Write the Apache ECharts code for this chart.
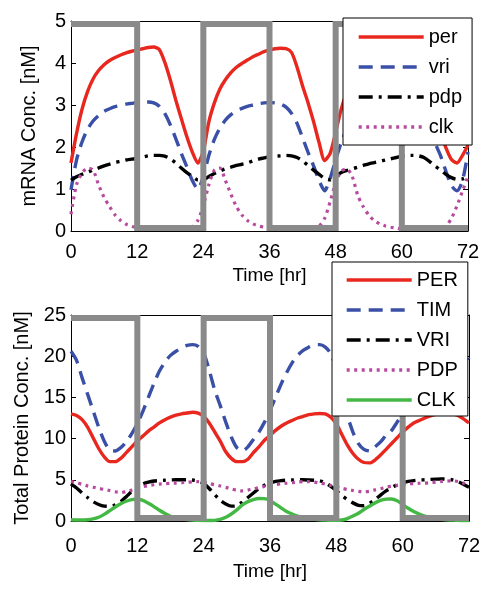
<!DOCTYPE html>
<html><head><meta charset="utf-8">
<script src="https://cdn.jsdelivr.net/npm/echarts@6/dist/echarts.min.js"></script>
<style>html,body{margin:0;padding:0;background:#fff}#c{width:496px;height:600px}</style>
</head><body><div id="c"></div>
<script>
// ---- data ----
const hours = [0,1,2,3,4,5,6,7,8,9,10,11,12,13,14,15,16,17,18,19,20,21,22,23,24,25,26,27,28,29,30,31,32,33,34,35,36,37,38,39,40,41,42,43,44,45,46,47,48,49,50,51,52,53,54,55,56,57,58,59,60,61,62,63,64,65,66,67,68,69,70,71,72];
const xTicks = [0,12,24,36,48,60,72];

const mrnaPer = [1.62,2.32,2.9,3.32,3.62,3.82,3.96,4.06,4.13,4.19,4.24,4.28,4.31,
 4.34,4.37,4.38,4.32,4.02,3.6,3.12,2.68,2.25,1.88,1.62,1.9,
 2.6,3.05,3.38,3.6,3.77,3.9,3.99,4.07,4.15,4.21,4.27,4.31,
 4.34,4.35,4.34,4.25,3.9,3.45,3.05,2.6,2.1,1.68,1.85,2.35,
 2.9,3.3,3.6,3.82,3.98,4.08,4.16,4.22,4.26,4.3,4.33,4.35,
 4.36,4.35,4.2,3.85,3.35,2.85,2.35,1.98,1.7,1.62,1.8,2.05];
const mrnaVri = [0.98,1.69,2.12,2.42,2.62,2.75,2.85,2.91,2.96,2.99,3.02,3.04,3.06,
 3.07,3.07,3.05,2.97,2.8,2.53,2.2,1.85,1.53,1.2,1.0,1.3,
 1.8,2.18,2.45,2.64,2.77,2.86,2.92,2.97,3.0,3.03,3.05,3.06,
 3.05,3.02,2.95,2.8,2.56,2.22,1.87,1.55,1.2,0.96,1.25,1.7,
 2.1,2.42,2.62,2.76,2.86,2.92,2.97,3.0,3.03,3.05,3.06,3.06,
 3.04,2.98,2.86,2.65,2.4,2.1,1.8,1.42,1.08,0.96,1.2,1.88];
const mrnaPdp = [1.21,1.29,1.35,1.4,1.45,1.5,1.55,1.59,1.63,1.66,1.69,1.71,1.73,
 1.76,1.79,1.8,1.8,1.78,1.72,1.62,1.5,1.39,1.3,1.22,1.22,
 1.3,1.37,1.43,1.48,1.52,1.56,1.59,1.62,1.67,1.71,1.74,1.77,
 1.78,1.79,1.8,1.79,1.75,1.67,1.56,1.45,1.35,1.25,1.22,1.3,
 1.39,1.44,1.48,1.52,1.56,1.6,1.63,1.66,1.69,1.72,1.75,1.78,
 1.8,1.8,1.79,1.75,1.66,1.55,1.45,1.35,1.27,1.23,1.24,1.3];
const mrnaClk = [0.4,1.1,1.38,1.5,1.45,1.1,0.8,0.58,0.38,0.25,0.16,0.11,0.08,
 0.06,0.05,0.04,0.04,0.04,0.04,0.04,0.05,0.06,0.1,0.25,0.6,
 1.1,1.45,1.5,1.2,0.88,0.58,0.38,0.25,0.17,0.12,0.09,0.07,
 0.06,0.05,0.05,0.05,0.05,0.06,0.07,0.09,0.12,0.3,0.7,1.15,
 1.42,1.48,1.3,0.85,0.58,0.38,0.25,0.17,0.12,0.09,0.07,0.05,
 0.05,0.05,0.05,0.05,0.05,0.06,0.08,0.12,0.3,0.6,0.95,1.3];

const protPer = [13.0,12.8,12.3,11.4,10.1,8.8,7.8,7.2,7.2,7.6,8.3,9.0,9.7,
 10.3,10.9,11.4,11.9,12.3,12.6,12.85,13.0,13.1,13.2,13.1,12.7,
 11.9,10.8,9.7,8.4,7.6,7.2,7.2,7.5,8.3,9.0,9.8,10.4,
 11.0,11.5,11.9,12.2,12.5,12.7,12.9,13.0,13.05,13.0,12.6,11.8,
 10.5,9.2,8.2,7.5,7.1,7.05,7.4,8.0,8.7,9.4,10.1,10.8,
 11.4,11.9,12.2,12.5,12.75,12.95,13.05,13.1,13.0,12.8,12.4,11.9];
const protTim = [20.6,19.5,17.4,15.4,13.4,11.4,9.7,8.6,8.5,8.9,9.6,10.6,11.8,
 13.3,15.0,16.7,18.2,19.3,20.1,20.6,21.0,21.3,21.4,21.2,20.4,
 18.3,15.9,14.0,12.0,10.2,8.9,8.5,9.0,9.9,10.8,12.0,13.4,
 15.0,16.6,18.0,19.2,20.1,20.7,21.1,21.4,21.4,21.1,20.3,18.4,
 15.6,12.8,10.8,9.4,8.7,8.5,9.0,9.6,10.4,11.0,12.0,13.0,
 14.5,16.0,17.5,18.8,19.9,20.6,21.1,21.3,21.4,21.2,20.6,19.6];
const protVri = [4.5,4.0,3.4,2.85,2.35,2.0,1.8,1.78,1.95,2.35,2.95,3.6,4.1,
 4.5,4.72,4.85,4.9,4.95,4.98,5.0,5.0,5.0,4.97,4.85,4.55,
 3.95,3.2,2.5,2.05,1.8,1.85,2.3,2.85,3.4,3.95,4.35,4.6,
 4.8,4.9,4.95,4.98,5.0,5.0,4.98,4.95,4.88,4.65,4.2,3.7,
 3.1,2.6,2.2,1.9,1.85,2.15,2.6,3.15,3.65,4.05,4.4,4.65,
 4.8,4.9,4.97,5.0,5.05,5.08,5.1,5.08,5.0,4.8,4.45,4.1];
const protPdp = [4.8,4.65,4.45,4.25,4.1,3.95,3.83,3.7,3.55,3.48,3.55,3.75,3.95,
 4.15,4.3,4.4,4.48,4.53,4.57,4.6,4.65,4.7,4.75,4.77,4.7,
 4.55,4.4,4.25,4.08,3.9,3.72,3.65,3.75,3.9,4.05,4.2,4.32,
 4.42,4.5,4.58,4.65,4.72,4.77,4.77,4.72,4.6,4.48,4.3,4.15,
 3.98,3.82,3.7,3.6,3.55,3.6,3.78,3.92,4.1,4.22,4.33,4.42,
 4.5,4.55,4.58,4.6,4.65,4.72,4.8,4.85,4.88,4.8,4.6,4.4];
const protClk = [0.15,0.12,0.12,0.15,0.25,0.45,0.8,1.25,1.7,2.1,2.4,2.6,2.67,
 2.5,2.15,1.75,1.3,0.9,0.58,0.38,0.25,0.16,0.1,0.07,0.06,
 0.06,0.08,0.2,0.45,0.85,1.35,1.95,2.35,2.6,2.73,2.72,2.5,
 2.05,1.6,1.15,0.85,0.6,0.42,0.3,0.22,0.15,0.1,0.08,0.08,
 0.12,0.3,0.6,0.95,1.4,1.8,2.2,2.5,2.65,2.67,2.45,2.0,
 1.55,1.15,0.85,0.6,0.42,0.3,0.2,0.14,0.1,0.08,0.06,0.05];

// light/dark schedule (1 = upper bar, 0 = lower bar)
const lightTimes = [0,12,12,24,24,36,36,48,48,60,60,72];
const lightState = [1,1,0,0,1,1,0,0,1,1,0,0];

const mrnaNames = ['per','vri','pdp','clk'];
const protNames = ['PER','TIM','VRI','PDP','CLK'];

// ---- chart ----
const FONT = '"Liberation Sans", Arial, Helvetica, sans-serif';
const chart = echarts.init(document.getElementById('c'), null, {renderer:'canvas'});

const styles = {
  red:   {color:'#e8271e', width:3.4, type:'solid'},
  blue:  {color:'#3a4fa6', width:3.4, type:[14,8]},
  black: {color:'#000000', width:3.4, type:[14,6,3,6]},
  mag:   {color:'#b84a9e', width:3.2, type:[3,4.5]},
  green: {color:'#44b844', width:3.4, type:'solid'}
};

function line(name, vals, st, gi) {
  return {
    type:'line', name, xAxisIndex:gi*2, yAxisIndex:gi*2,
    data: hours.map((h,i)=>[h, vals[i]]),
    symbol:'none', smooth:0.25, z:3,
    lineStyle:{color:st.color, width:st.width, type:st.type},
    itemStyle:{color:st.color},
    emphasis:{disabled:true}, silent:true
  };
}
function lightSeries(gi, hi, lo) {
  return {
    type:'line', name:'light'+gi, xAxisIndex:gi*2, yAxisIndex:gi*2,
    data: lightTimes.map((t,i)=>[t, lightState[i] ? hi : lo]),
    symbol:'none', z:5, silent:true,
    lineStyle:{color:'#8a8a8a', width:6, cap:'butt', join:'miter'},
    emphasis:{disabled:true}
  };
}
function xAx(gi, pos, showLabels, name, nameGap, margin) {
  return {
    type:'value', gridIndex:gi, position:pos, min:0, max:72, interval:12,
    axisLine:{show:true, onZero:false, lineStyle:{color:'#000', width:1}},
    axisTick:{show:true, inside:true, length:5, lineStyle:{color:'#000'}},
    axisLabel:{show:showLabels, fontSize:20, fontFamily:FONT, color:'#000', margin:margin},
    splitLine:{show:false},
    name: name, nameLocation:'middle', nameGap:nameGap,
    nameTextStyle:{fontSize:19, fontFamily:FONT, color:'#000'}
  };
}
function yAx(gi, pos, showLabels, max, interval, name, nameGap) {
  return {
    type:'value', gridIndex:gi, position:pos, min:0, max:max, interval:interval,
    axisLine:{show:true, onZero:false, lineStyle:{color:'#000', width:1}},
    axisTick:{show:true, inside:true, length:5, lineStyle:{color:'#000'}},
    axisLabel:{show:showLabels, fontSize:20, fontFamily:FONT, color:'#000', margin:5},
    splitLine:{show:false},
    name: name, nameLocation:'middle', nameGap:nameGap, nameRotate:90,
    nameTextStyle:{fontSize:20, fontFamily:FONT, color:'#000'}
  };
}

const legendBase = {
  orient:'vertical', itemWidth:65, itemHeight:20, itemGap:10,
  backgroundColor:'#fff', borderColor:'#000', borderWidth:1, borderRadius:0,
  selectedMode:false, z:10,
  itemStyle:{opacity:0},
  lineStyle:{width:3.4},
  textStyle:{fontSize:20, fontFamily:FONT, color:'#000'}
};

const option = {
  animation:false,
  backgroundColor:'#fff',
  grid:[
    {left:71, top:21, width:397, height:210},
    {left:71, top:315, width:398, height:206}
  ],
  xAxis:[
    xAx(0,'bottom',true,'Time [hr]',35,11),
    xAx(0,'top',false,'',0,0),
    xAx(1,'bottom',true,'Time [hr]',41,15),
    xAx(1,'top',false,'',0,0)
  ],
  yAxis:[
    yAx(0,'left',true,5,1,'mRNA Conc. [nM]',32),
    yAx(0,'right',false,5,1,'',0),
    yAx(1,'left',true,25,5,'Total Protein Conc. [nM]',35),
    yAx(1,'right',false,25,5,'',0)
  ],
  legend:[
    Object.assign({}, legendBase, {left:343, top:18, padding:[9,10,8,14], data:mrnaNames}),
    Object.assign({}, legendBase, {left:332, top:262, padding:[8,10,6,13], data:protNames})
  ],
  series:[
    lightSeries(0, 5 - 3/42, 3/42),
    line(mrnaNames[0], mrnaPer, styles.red, 0),
    line(mrnaNames[1], mrnaVri, styles.blue, 0),
    line(mrnaNames[2], mrnaPdp, styles.black, 0),
    line(mrnaNames[3], mrnaClk, styles.mag, 0),
    lightSeries(1, 25 - 3/8.24, 3/8.24),
    line(protNames[0], protPer, styles.red, 1),
    line(protNames[1], protTim, styles.blue, 1),
    line(protNames[2], protVri, styles.black, 1),
    line(protNames[3], protPdp, styles.mag, 1),
    line(protNames[4], protClk, styles.green, 1)
  ]
};
chart.setOption(option);
</script>
</body></html>
